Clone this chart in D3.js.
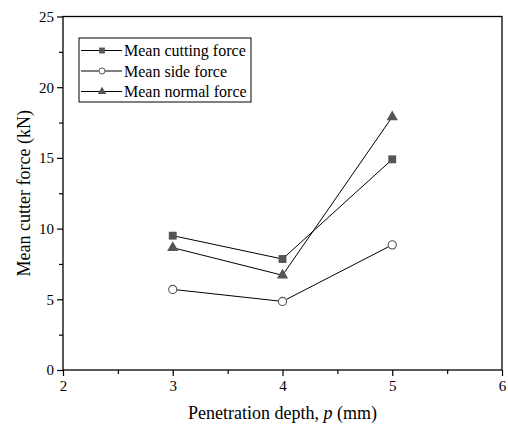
<!DOCTYPE html>
<html>
<head>
<meta charset="utf-8">
<script src="https://cdn.jsdelivr.net/npm/d3@7"></script>
<style>
  body { margin: 0; background: #fff; }
</style>
</head>
<body>
<div id="container"></div>
<script>
"use strict";

const depths = [3, 4, 5];
const cuttingForce = [9.5, 7.85, 14.9];
const sideForce = [5.7, 4.85, 8.85];
const normalForce = [8.65, 6.7, 17.9];
const seriesNames = ["Mean cutting force", "Mean side force", "Mean normal force"];
const xTicks = [2, 3, 4, 5, 6];
const yTicks = [0, 5, 10, 15, 20, 25];

const width = 508;
const height = 427;
const margin = { top: 16.5, right: 6, bottom: 57, left: 63 };
const markerColor = "#555";
const serif = "'Liberation Serif', 'DejaVu Serif', 'Times New Roman', serif";

const series = [
  { name: seriesNames[0], values: cuttingForce, symbol: d3.symbolSquare, size: 62, fill: markerColor },
  { name: seriesNames[1], values: sideForce, symbol: d3.symbolCircle, size: 52, fill: "#fff" },
  { name: seriesNames[2], values: normalForce, symbol: d3.symbolTriangle, size: 55, fill: markerColor },
];

const svg = d3.select("#container")
  .append("svg")
  .attr("width", width)
  .attr("height", height)
  .style("font-family", serif);

const x = d3.scaleLinear().domain([2, 6]).range([margin.left, width - margin.right]);
const y = d3.scaleLinear().domain([0, 25]).range([height - margin.bottom, margin.top]);

// frame
svg.append("rect")
  .attr("x", x(2))
  .attr("y", y(25))
  .attr("width", x(6) - x(2))
  .attr("height", y(0) - y(25))
  .attr("fill", "none")
  .attr("stroke", "#000")
  .attr("stroke-width", 1.3);

// minor ticks
const xMinor = d3.axisBottom(x).tickValues(d3.range(2.5, 6, 1)).tickSize(4).tickFormat("");
const yMinor = d3.axisLeft(y).tickValues(d3.range(2.5, 25, 5)).tickSize(4).tickFormat("");

svg.append("g").attr("transform", `translate(0,${y(0)})`).call(xMinor)
  .call(g => g.select(".domain").remove());
svg.append("g").attr("transform", `translate(${x(2)},0)`).call(yMinor)
  .call(g => g.select(".domain").remove());

const xAxis = d3.axisBottom(x).tickValues(xTicks).tickSize(6).tickPadding(4).tickFormat(d3.format("d"));
const yAxis = d3.axisLeft(y).tickValues(yTicks).tickSize(6).tickPadding(3).tickFormat(d3.format("d"));

svg.append("g").attr("transform", `translate(0,${y(0)})`).call(xAxis)
  .call(g => g.select(".domain").remove());
svg.append("g").attr("transform", `translate(${x(2)},0)`).call(yAxis)
  .call(g => g.select(".domain").remove());

svg.selectAll("g").attr("font-family", serif).attr("font-size", 15);
svg.selectAll(".tick text").style("font-family", serif).style("font-size", "15px").attr("fill", "#000");
svg.selectAll(".tick line").attr("stroke", "#000").attr("stroke-width", 1.2);

// lines
const line = d3.line()
  .x((d, i) => x(depths[i]))
  .y(d => y(d));

series.forEach(s => {
  svg.append("path")
    .attr("d", line(s.values))
    .attr("fill", "none")
    .attr("stroke", "#000")
    .attr("stroke-width", 1);
});

series.forEach(s => {
  svg.selectAll(null)
    .data(s.values)
    .enter()
    .append("path")
    .attr("d", d3.symbol().type(s.symbol).size(s.size))
    .attr("transform", (d, i) => `translate(${x(depths[i])},${y(d)})`)
    .attr("fill", s.fill)
    .attr("stroke", markerColor)
    .attr("stroke-width", s.fill === "#fff" ? 1.1 : 0);
});

// legend
const legend = svg.append("g").attr("transform", "translate(79,38)");
legend.append("rect")
  .attr("width", 172)
  .attr("height", 64)
  .attr("fill", "#fff")
  .attr("stroke", "#000")
  .attr("stroke-width", 1);

series.forEach((s, i) => {
  const ly = 12.5 + i * 20.5;
  legend.append("line")
    .attr("x1", 2).attr("x2", 43)
    .attr("y1", ly).attr("y2", ly)
    .attr("stroke", "#000").attr("stroke-width", 1);
  legend.append("path")
    .attr("d", d3.symbol().type(s.symbol).size(s.size * 0.55))
    .attr("transform", `translate(23,${ly})`)
    .attr("fill", s.fill)
    .attr("stroke", markerColor)
    .attr("stroke-width", s.fill === "#fff" ? 1 : 0);
  legend.append("text")
    .attr("x", 45)
    .attr("y", ly)
    .attr("dy", "0.35em")
    .style("font-family", serif)
    .style("font-size", "16px")
    .text(s.name);
});

// axis titles
svg.append("text")
  .attr("x", (x(2) + x(6)) / 2)
  .attr("y", 419)
  .attr("text-anchor", "middle")
  .style("font-family", serif)
  .style("font-size", "18px")
  .call(t => {
    t.append("tspan").text("Penetration depth, ");
    t.append("tspan").style("font-style", "italic").text("p");
    t.append("tspan").text(" (mm)");
  });

svg.append("text")
  .attr("transform", `translate(30,${(y(0) + y(25)) / 2}) rotate(-90)`)
  .attr("text-anchor", "middle")
  .style("font-family", serif)
  .style("font-size", "18px")
  .text("Mean cutter force (kN)");
</script>
</body>
</html>
